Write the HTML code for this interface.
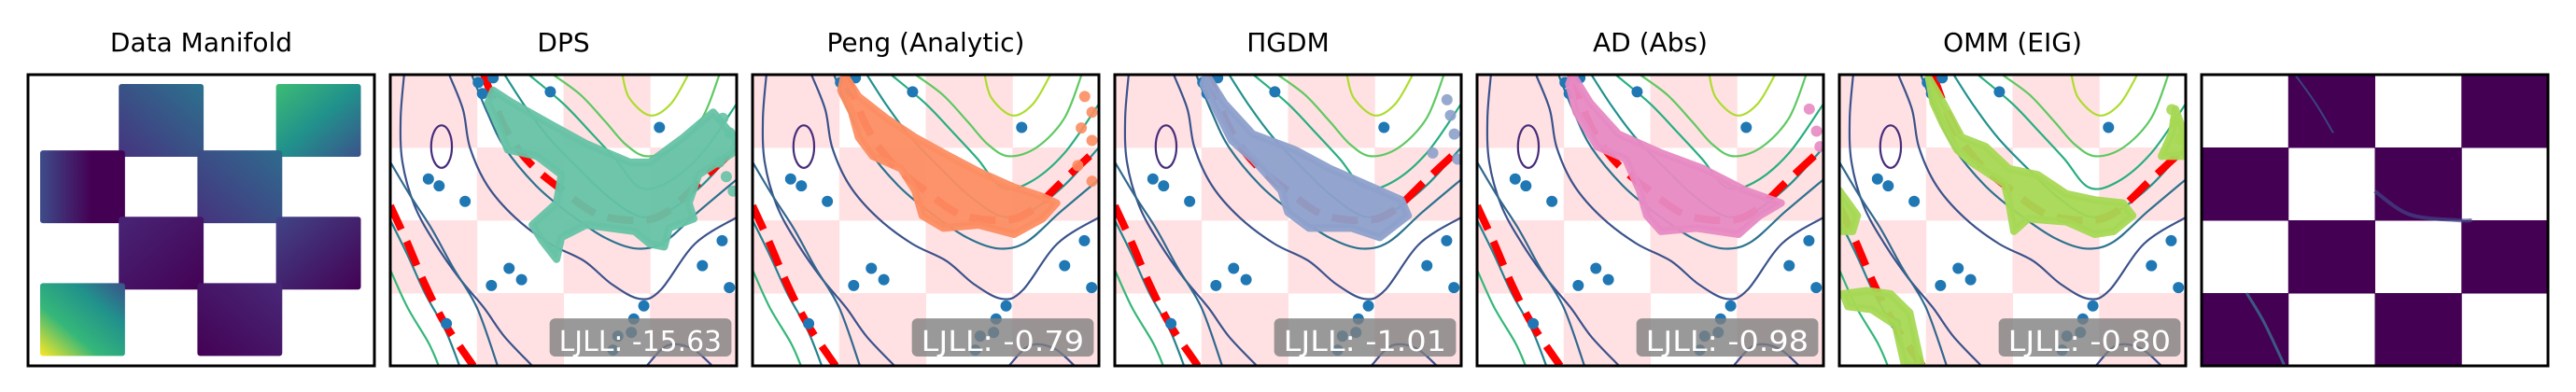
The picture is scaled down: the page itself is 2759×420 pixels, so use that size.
<!DOCTYPE html>
<html><head><meta charset="utf-8"><style>
html,body{margin:0;padding:0;background:#fff;}
svg{display:block;font-family:"DejaVu Sans","Liberation Sans",sans-serif;}
</style></head><body>
<svg id="fig" width="2759" height="420" viewBox="0 0 2759 420" xmlns="http://www.w3.org/2000/svg">
<defs>
<linearGradient id="g00" x1="0" y1="1" x2="1" y2="0"><stop offset="0" stop-color="#46337f"/><stop offset="1" stop-color="#2c728e"/></linearGradient>
<linearGradient id="g01" x1="0" y1="0" x2="1" y2="1"><stop offset="0" stop-color="#3dbc74"/><stop offset="0.5" stop-color="#21918c"/><stop offset="1" stop-color="#3b528b"/></linearGradient>
<linearGradient id="g10" x1="0" y1="0" x2="1" y2="0"><stop offset="0" stop-color="#3e4c8a"/><stop offset="0.6" stop-color="#440154"/><stop offset="1" stop-color="#440154"/></linearGradient>
<linearGradient id="g11" x1="0" y1="1" x2="1" y2="0"><stop offset="0" stop-color="#46327e"/><stop offset="1" stop-color="#2f6b8e"/></linearGradient>
<linearGradient id="g20" x1="0" y1="0" x2="1" y2="1"><stop offset="0" stop-color="#482576"/><stop offset="1" stop-color="#440154"/></linearGradient>
<linearGradient id="g21" x1="0" y1="0" x2="1" y2="1"><stop offset="0" stop-color="#414487"/><stop offset="1" stop-color="#440154"/></linearGradient>
<linearGradient id="g30" x1="0" y1="1" x2="1" y2="0"><stop offset="0" stop-color="#fde725"/><stop offset="0.35" stop-color="#35b779"/><stop offset="0.7" stop-color="#21918c"/><stop offset="1" stop-color="#3b528b"/></linearGradient>
<linearGradient id="g31" x1="0" y1="1" x2="1" y2="0"><stop offset="0" stop-color="#440154"/><stop offset="1" stop-color="#482878"/></linearGradient>
</defs>
</svg>
<script>
// ---- data ----
const titles = ["Data Manifold","DPS","Peng (Analytic)","\u03A0GDM","AD (Abs)","OMM (EIG)",""];
const ljllValues = ["-15.63","-0.79","-1.01","-0.98","-0.80"];
const cloudColors = ["#66c2a5","#fc8d62","#8da0cb","#e78ac3","#a6d854"];
const contourA = [[.04,0],[.03,.15],[.035,.3],[.07,.45],[.13,.58],[.2,.7],[.27,.8],[.33,.9],[.41,1]];
const contourB = [[.17,0],[.21,.12],[.23,.25],[.28,.38],[.36,.49],[.46,.58],[.56,.64],[.64,.72],[.72,.77],[.78,.74],[.88,.58],[1,.49]];
const contourC = [[.235,0],[.28,.13],[.33,.25],[.42,.38],[.52,.48],[.62,.56],[.71,.597],[.79,.575],[.89,.47],[1,.36]];
const contourD = [[.33,0],[.39,.11],[.46,.22],[.55,.33],[.63,.42],[.72,.487],[.8,.47],[.9,.38],[1,.25]];
const contourE = [[.40,0],[.5,.1],[.58,.2],[.65,.29],[.72,.387],[.8,.37],[.9,.27],[1,.1]];
const contourF = [[.47,0],[.55,.07],[.62,.16],[.68,.24],[.74,.28],[.82,.25],[.9,.15],[.95,0]];
const contourG = [[.67,0],[.69,.08],[.75,.14],[.81,.1],[.86,0]];
const contourL1 = [[0,.3],[.06,.42],[.12,.53],[.18,.66],[.25,.8],[.31,1]];
const contourL2 = [[0,.5],[.05,.62],[.1,.75],[.16,.88],[.2,1]];
const contourL3 = [[0,.67],[.05,.8],[.11,.92],[.14,1]];
const contourArc = [[.74,1],[.8,.93],[.87,.94],[.93,1]];
const contourColors = ["#3b528b","#3b528b","#2c728e","#21918c","#28ae80","#5ec962","#addc30","#31688e","#26828e","#35b779","#3b528b"];
const redLine1 = [[.27,0],[.33,.18],[.40,.3],[.50,.4],[.60,.48],[.72,.5],[.80,.47],[.90,.36],[1,.25]];
const redLine2 = [[0,.45],[.05,.58],[.1,.72],[.16,.86],[.24,1]];
const blueDotsU = [.254,.297,.266,.462,.777,.110,.141,.216,.343,.379,.292,.732,.703,.696,.657,.643,.958,.901,.979,.162];
const blueDotsV = [.027,.011,.065,.059,.181,.358,.382,.435,.665,.704,.724,.794,.839,.885,.898,.946,.570,.656,.731,.855];
const cloudDPS = [[[.297,.054],[.353,.097],[.466,.172],[.565,.237],[.692,.301],[.749,.301],[.847,.215],[.932,.129],[1,.226],[.989,.269],[.890,.344],[.862,.441],[.876,.495],[.805,.527],[.791,.591],[.749,.581],[.706,.538],[.565,.516],[.494,.559],[.480,.634],[.438,.570],[.410,.516],[.480,.441],[.494,.344],[.424,.280],[.339,.258],[.311,.172],[.282,.097]]];
const cloudPeng = [[[.265,0],[.306,.075],[.388,.151],[.469,.215],[.551,.269],[.653,.333],[.755,.387],[.837,.419],[.878,.441],[.837,.495],[.755,.548],[.653,.516],[.551,.527],[.490,.484],[.469,.398],[.429,.323],[.347,.280],[.306,.215],[.286,.129],[.255,.054]]];
const cloudPGDM = [[[.265,0],[.316,.097],[.398,.204],[.520,.258],[.622,.323],[.724,.376],[.827,.430],[.847,.484],[.765,.559],[.684,.527],[.561,.527],[.5,.473],[.480,.398],[.398,.290],[.337,.226],[.296,.129],[.255,.032]]];
const cloudAD = [[[.276,0],[.327,.097],[.408,.204],[.531,.269],[.653,.323],[.776,.398],[.878,.441],[.816,.484],[.755,.548],[.633,.527],[.531,.538],[.490,.484],[.469,.398],[.429,.290],[.347,.247],[.286,.129],[.265,.032]]];
const cloudOMM = [[[.258,.011],[.3,.097],[.353,.215],[.422,.247],[.49,.323],[.573,.344],[.655,.409],[.737,.430],[.819,.441],[.847,.484],[.792,.538],[.737,.548],[.655,.505],[.545,.495],[.504,.538],[.490,.441],[.477,.376],[.381,.301],[.340,.258],[.3,.172],[.271,.097]],
 [[.97,.118],[1,.215],[1,.28],[.93,.28],[.96,.2]],
 [[0,.398],[.052,.484],[.038,.538],[0,.538]],
 [[.011,.753],[.079,.742],[.148,.753],[.203,.817],[.237,1],[.189,1],[.162,.860],[.093,.806],[.025,.796]]];
const edgeDotsU = [[.96,.98,.95,.97,.99],[.959,.98,.949,.98,.939,.98],[.959,.969,.98,.918,.99],[.959,.98,.99],[.96,.97,.985]];
const edgeDotsV = [[.15,.2,.3,.35,.4],[.075,.129,.183,.226,.312,.366],[.086,.14,.204,.269,.29],[.118,.194,.247],[.12,.16,.22]];
const manCols = [1,3,0,2,1,3,0,2];
const manRows = [0,0,1,1,2,2,3,3];
const manFills = ["g00","g01","g10","g11","g20","g21","g30","g31"];

// ---- drawing ----
const NS="http://www.w3.org/2000/svg";
const svg=document.getElementById('fig');
const PX=30, PSTEP=388, PW=371, PY=80, PH=312;
function el(tag,attrs,parent){const e=document.createElementNS(NS,tag);for(const k in attrs)e.setAttribute(k,attrs[k]);(parent||svg).appendChild(e);return e;}
function sx(i,u){return PX+PSTEP*i+u*PW;}
function sy(v){return PY+v*PH;}
function pathOf(i,pts,close){return pts.map((p,j)=>(j?'L':'M')+sx(i,p[0]).toFixed(1)+' '+sy(p[1]).toFixed(1)).join(' ')+(close?' Z':'');}
function smoothOf(i,pts){
  const P=pts.map(p=>[sx(i,p[0]),sy(p[1])]);let d='M'+P[0][0]+' '+P[0][1];
  for(let k=0;k<P.length-1;k++){const p0=P[k-1]||P[k],p1=P[k],p2=P[k+1],p3=P[k+2]||p2;
    d+=' C'+(p1[0]+(p2[0]-p0[0])/6).toFixed(1)+' '+(p1[1]+(p2[1]-p0[1])/6).toFixed(1)+' '+(p2[0]-(p3[0]-p1[0])/6).toFixed(1)+' '+(p2[1]-(p3[1]-p1[1])/6).toFixed(1)+' '+p2[0].toFixed(1)+' '+p2[1].toFixed(1);}
  return d;}

const contours=[contourA,contourB,contourC,contourD,contourE,contourF,contourG,contourL1,contourL2,contourL3,contourArc];
const clouds=[cloudDPS,cloudPeng,cloudPGDM,cloudAD,cloudOMM];

for(let i=0;i<7;i++){
  const g=el('g',{'clip-path':'url(#clip'+i+')'});
  
  
  const cp=el('clipPath',{id:'clip'+i},svg.querySelector('defs'));
  el('rect',{x:sx(i,0),y:PY,width:PW,height:PH},cp);
  const t=el('text',{x:sx(i,0.5),y:55,'text-anchor':'middle','font-size':'28',fill:'#000'});
  t.textContent=titles[i];
  
  
  if(i===0){
    for(let k=0;k<manCols.length;k++){
      const r=el('rect',{x:sx(0,.035+manCols[k]*.227),y:sy(.032+manRows[k]*.228),width:PW*.245,height:PH*.25,rx:3,fill:'url(#'+manFills[k]+')'},g);
      
      
    }
  } else if(i===6){
    for(let r=0;r<4;r++)for(let c=0;c<4;c++){
      if((r+c)%2===1){const q=el('rect',{x:sx(6,c/4),y:sy(r/4),width:PW/4+0.5,height:PH/4+0.5,fill:'#440154'},g);
        
        }
    }
    el('path',{d:smoothOf(6,[[.27,0],[.33,.1],[.38,.2]]),stroke:'#3b528b','stroke-width':2,fill:'none',opacity:.8},g);
    el('path',{d:smoothOf(6,[[.5,.4],[.6,.48],[.74,.5],[.78,.5]]),stroke:'#414487','stroke-width':4,fill:'none',opacity:.7},g);
    el('path',{d:smoothOf(6,[[.13,.75],[.18,.85],[.24,1]]),stroke:'#3b6f8e','stroke-width':3,fill:'none',opacity:.8},g);
  } else {
    const j=i-1;
    for(let r=0;r<4;r++)for(let c=0;c<4;c++){
      if((r+c)%2===0){const q=el('rect',{x:sx(i,c/4),y:sy(r/4),width:PW/4+0.5,height:PH/4+0.5,fill:'#ffe1e3'},g);
        
        }
    }
    contours.forEach((c,k)=>{const p=el('path',{d:smoothOf(i,c),stroke:contourColors[k],'stroke-width':2.2,fill:'none'},g);
      
      });
    const e=el('ellipse',{cx:sx(i,.148),cy:sy(.247),rx:PW*.03,ry:PH*.073,stroke:'#472d7b','stroke-width':2.2,fill:'none'},g);
    
    
    [redLine1,redLine2].forEach(rl=>{const p=el('path',{d:smoothOf(i,rl),stroke:'#ff0000','stroke-width':8,'stroke-dasharray':'28 14',fill:'none'},g);
      
      });
    for(let k=0;k<blueDotsU.length;k++){const d=el('circle',{cx:sx(i,blueDotsU[k]),cy:sy(blueDotsV[k]),r:6,fill:'#1f77b4'},g);
      
      }
    clouds[j].forEach(poly=>{const p=el('path',{d:pathOf(i,poly,true),fill:cloudColors[j],stroke:cloudColors[j],'stroke-width':8,'stroke-linejoin':'round','fill-opacity':.95,'stroke-opacity':.95},g);
      
      });
    for(let k=0;k<edgeDotsU[j].length;k++){const d=el('circle',{cx:sx(i,edgeDotsU[j][k]),cy:sy(edgeDotsV[j][k]),r:6,fill:cloudColors[j],opacity:.9},g);
      
      }
    const b=el('rect',{x:sx(i,.46),y:sy(.837),width:PW*.525,height:PH*.131,rx:6,fill:'#808080','fill-opacity':.8},g);
    
    
    const lt=el('text',{x:sx(i,.722),y:sy(.948),'text-anchor':'middle','font-size':'30',fill:'#fff',textLength:PW*.47,lengthAdjust:'spacingAndGlyphs'},g);
    lt.textContent='LJLL: '+ljllValues[j];
    
    
  }
  const fr=el('rect',{x:sx(i,0),y:PY,width:PW,height:PH,fill:'none',stroke:'#000','stroke-width':3});
  
  
}
</script>
</body></html>
